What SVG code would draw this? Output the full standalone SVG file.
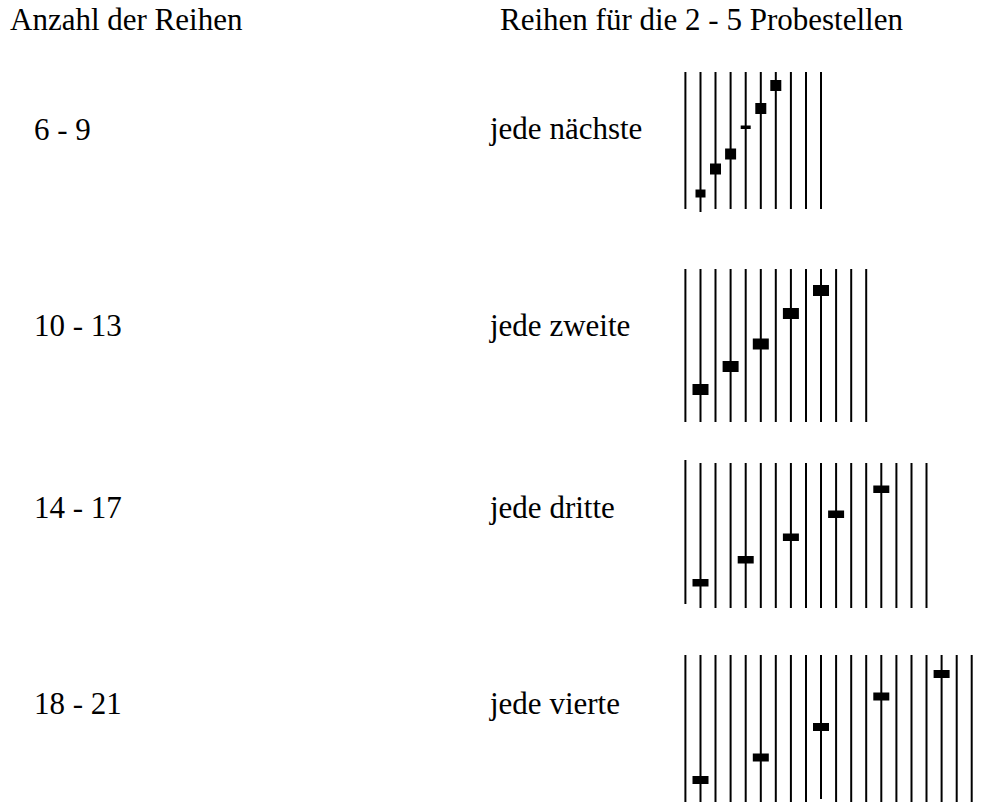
<svg xmlns="http://www.w3.org/2000/svg" width="982" height="803" viewBox="0 0 982 803">
<style>
text{font-family:"Liberation Serif","Times New Roman",serif;font-size:31px;fill:#000}
.ln{stroke:#000;stroke-width:2}
.mk{fill:#000}
</style>
<rect width="982" height="803" fill="#fff"/>
<g id="header">
<text x="10" y="30">Anzahl der Reihen</text>
<text x="500" y="30">Reihen für die 2 - 5 Probestellen</text>
</g>
<g id="row1">
<text x="34" y="140">6 - 9</text>
<text x="490" y="139">jede nächste</text>
<g id="pattern1">
<line class="ln" x1="685.4" y1="72" x2="685.4" y2="209"/>
<line class="ln" x1="700.5" y1="72" x2="700.5" y2="212"/>
<line class="ln" x1="715.5" y1="72" x2="715.5" y2="209"/>
<line class="ln" x1="730.6" y1="72" x2="730.6" y2="209"/>
<line class="ln" x1="745.7" y1="72" x2="745.7" y2="209"/>
<line class="ln" x1="760.8" y1="72" x2="760.8" y2="209"/>
<line class="ln" x1="775.8" y1="72" x2="775.8" y2="209"/>
<line class="ln" x1="790.9" y1="72" x2="790.9" y2="209"/>
<line class="ln" x1="806.0" y1="72" x2="806.0" y2="209"/>
<line class="ln" x1="821.0" y1="72" x2="821.0" y2="209"/>
<rect class="mk" x="695.5" y="189.5" width="10" height="8"/>
<rect class="mk" x="710" y="163.5" width="11" height="11"/>
<rect class="mk" x="725.1" y="148.5" width="11" height="11"/>
<rect class="mk" x="740.7" y="125.5" width="10" height="3.5"/>
<rect class="mk" x="755.3" y="103" width="11" height="11"/>
<rect class="mk" x="770.3" y="80" width="11" height="11"/>
</g>
</g>
<g id="row2">
<text x="34" y="336">10 - 13</text>
<text x="490" y="336">jede zweite</text>
<g id="pattern2">
<line class="ln" x1="685.4" y1="269" x2="685.4" y2="422"/>
<line class="ln" x1="700.5" y1="269" x2="700.5" y2="422"/>
<line class="ln" x1="715.5" y1="269" x2="715.5" y2="422"/>
<line class="ln" x1="730.6" y1="269" x2="730.6" y2="422"/>
<line class="ln" x1="745.7" y1="269" x2="745.7" y2="422"/>
<line class="ln" x1="760.8" y1="269" x2="760.8" y2="422"/>
<line class="ln" x1="775.8" y1="269" x2="775.8" y2="422"/>
<line class="ln" x1="790.9" y1="269" x2="790.9" y2="422"/>
<line class="ln" x1="806.0" y1="269" x2="806.0" y2="422"/>
<line class="ln" x1="821.0" y1="269" x2="821.0" y2="422"/>
<line class="ln" x1="836.1" y1="269" x2="836.1" y2="422"/>
<line class="ln" x1="851.2" y1="269" x2="851.2" y2="422"/>
<line class="ln" x1="866.2" y1="269" x2="866.2" y2="422"/>
<rect class="mk" x="692.5" y="384" width="16" height="11"/>
<rect class="mk" x="722.6" y="361" width="16" height="11"/>
<rect class="mk" x="752.8" y="338.5" width="16" height="11"/>
<rect class="mk" x="782.9" y="308" width="16" height="11"/>
<rect class="mk" x="813.0" y="285" width="16" height="11"/>
</g>
</g>
<g id="row3">
<text x="34" y="518">14 - 17</text>
<text x="490" y="518">jede dritte</text>
<g id="pattern3">
<line class="ln" x1="685.4" y1="460" x2="685.4" y2="604" stroke-width="3"/>
<line class="ln" x1="700.5" y1="463" x2="700.5" y2="608"/>
<line class="ln" x1="715.5" y1="463" x2="715.5" y2="608"/>
<line class="ln" x1="730.6" y1="463" x2="730.6" y2="608"/>
<line class="ln" x1="745.7" y1="463" x2="745.7" y2="608"/>
<line class="ln" x1="760.8" y1="463" x2="760.8" y2="608"/>
<line class="ln" x1="775.8" y1="463" x2="775.8" y2="608"/>
<line class="ln" x1="790.9" y1="463" x2="790.9" y2="608"/>
<line class="ln" x1="806.0" y1="463" x2="806.0" y2="608"/>
<line class="ln" x1="821.0" y1="463" x2="821.0" y2="608"/>
<line class="ln" x1="836.1" y1="463" x2="836.1" y2="608"/>
<line class="ln" x1="851.2" y1="463" x2="851.2" y2="608"/>
<line class="ln" x1="866.2" y1="463" x2="866.2" y2="608"/>
<line class="ln" x1="881.3" y1="463" x2="881.3" y2="608"/>
<line class="ln" x1="896.4" y1="463" x2="896.4" y2="608"/>
<line class="ln" x1="911.5" y1="463" x2="911.5" y2="608"/>
<line class="ln" x1="926.5" y1="463" x2="926.5" y2="608"/>
<rect class="mk" x="692.5" y="579" width="16" height="7.5"/>
<rect class="mk" x="737.7" y="556" width="16" height="7.5"/>
<rect class="mk" x="782.9" y="533.5" width="16" height="7.5"/>
<rect class="mk" x="828.1" y="510.5" width="16" height="7.5"/>
<rect class="mk" x="873.3" y="485.5" width="16" height="7.5"/>
</g>
</g>
<g id="row4">
<text x="34" y="714">18 - 21</text>
<text x="490" y="714">jede vierte</text>
<g id="pattern4">
<line class="ln" x1="685.4" y1="655" x2="685.4" y2="802"/>
<line class="ln" x1="700.5" y1="655" x2="700.5" y2="802"/>
<line class="ln" x1="715.5" y1="655" x2="715.5" y2="802"/>
<line class="ln" x1="730.6" y1="655" x2="730.6" y2="802"/>
<line class="ln" x1="745.7" y1="655" x2="745.7" y2="802"/>
<line class="ln" x1="760.8" y1="655" x2="760.8" y2="802"/>
<line class="ln" x1="775.8" y1="655" x2="775.8" y2="802"/>
<line class="ln" x1="790.9" y1="655" x2="790.9" y2="802"/>
<line class="ln" x1="806.0" y1="655" x2="806.0" y2="802"/>
<line class="ln" x1="821.0" y1="655" x2="821.0" y2="799"/>
<line class="ln" x1="836.1" y1="655" x2="836.1" y2="802"/>
<line class="ln" x1="851.2" y1="655" x2="851.2" y2="802"/>
<line class="ln" x1="866.2" y1="655" x2="866.2" y2="802"/>
<line class="ln" x1="881.3" y1="655" x2="881.3" y2="802"/>
<line class="ln" x1="896.4" y1="655" x2="896.4" y2="802"/>
<line class="ln" x1="911.5" y1="655" x2="911.5" y2="802"/>
<line class="ln" x1="926.5" y1="655" x2="926.5" y2="802"/>
<line class="ln" x1="941.6" y1="655" x2="941.6" y2="802"/>
<line class="ln" x1="956.7" y1="655" x2="956.7" y2="802"/>
<line class="ln" x1="971.7" y1="655" x2="971.7" y2="802"/>
<rect class="mk" x="692.5" y="776" width="16" height="8"/>
<rect class="mk" x="752.8" y="753.5" width="16" height="8"/>
<rect class="mk" x="813.0" y="723" width="16" height="8"/>
<rect class="mk" x="873.3" y="692.5" width="16" height="8"/>
<rect class="mk" x="933.6" y="670" width="16" height="8"/>
</g>
</g>
</svg>
